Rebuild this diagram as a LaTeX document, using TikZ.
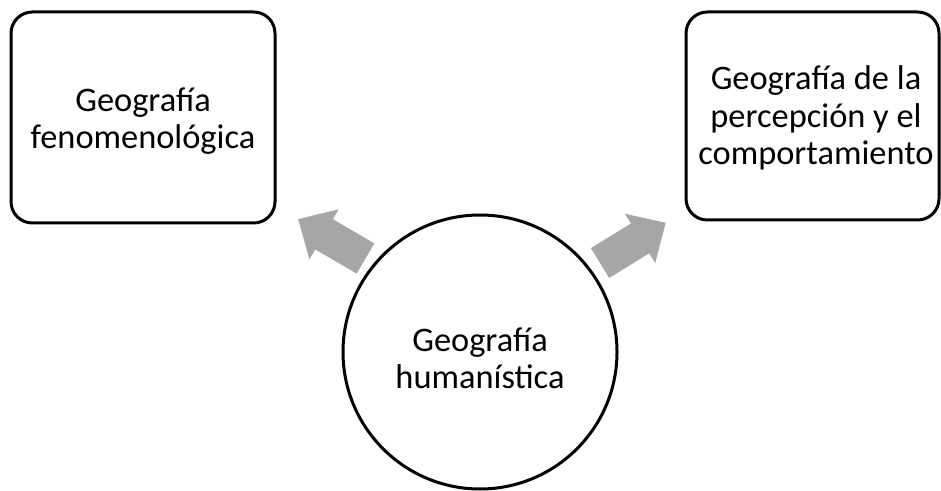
\documentclass[tikz,border=0pt]{standalone}
\usepackage{fontspec}
\setmainfont{Carlito}
\definecolor{arrowgray}{HTML}{A6A6A6}
\begin{document}
\begin{tikzpicture}[x=0.75pt,y=-0.75pt,
  label text/.style={align=center, font=\fontsize{25.8}{27.9}\selectfont},
  topicbox/.style={draw=black, line width=2.25pt, rounded corners=16pt,
    inner sep=0pt},
  hubcircle/.style={draw=black, line width=2.25pt, circle,
    inner sep=0pt, minimum size=205.5pt},
  blockarrow/.style={fill=arrowgray, draw=none}]
\useasboundingbox (0,0) rectangle (941,491);

% topic boxes
\node[topicbox, minimum width=198pt, minimum height=158.25pt]
  (feno) at (143,117.5) {};
\node[label text] (fenotext) at (143,121) {Geografía\\fenomenológica};
\node[topicbox, minimum width=189.75pt, minimum height=156pt]
  (perc) at (812.5,116) {};
\node[label text] (perctext) at (816,118) {Geografía de la\\percepción y el\\comportamiento};

% central circle
\node[hubcircle] (hum) at (480,352) {};
\node[label text] (humtext) at (480,358) {Geografía\\humanística};

% block arrows pointing from the circle to the boxes
\begin{scope}[shift={(365.5,258.5)}, rotate=149.7]
  \fill[blockarrow] (0,-17.5) -- (48,-17.5) -- (48,-29) -- (78,0)
    -- (48,29) -- (48,17.5) -- (0,17.5) -- cycle;
\end{scope}
\begin{scope}[shift={(600,263)}, rotate=31.5]
  \fill[blockarrow] (0,-17.5) -- (47,-17.5) -- (47,-29) -- (77,0)
    -- (47,29) -- (47,17.5) -- (0,17.5) -- cycle;
\end{scope}
\end{tikzpicture}
\end{document}
